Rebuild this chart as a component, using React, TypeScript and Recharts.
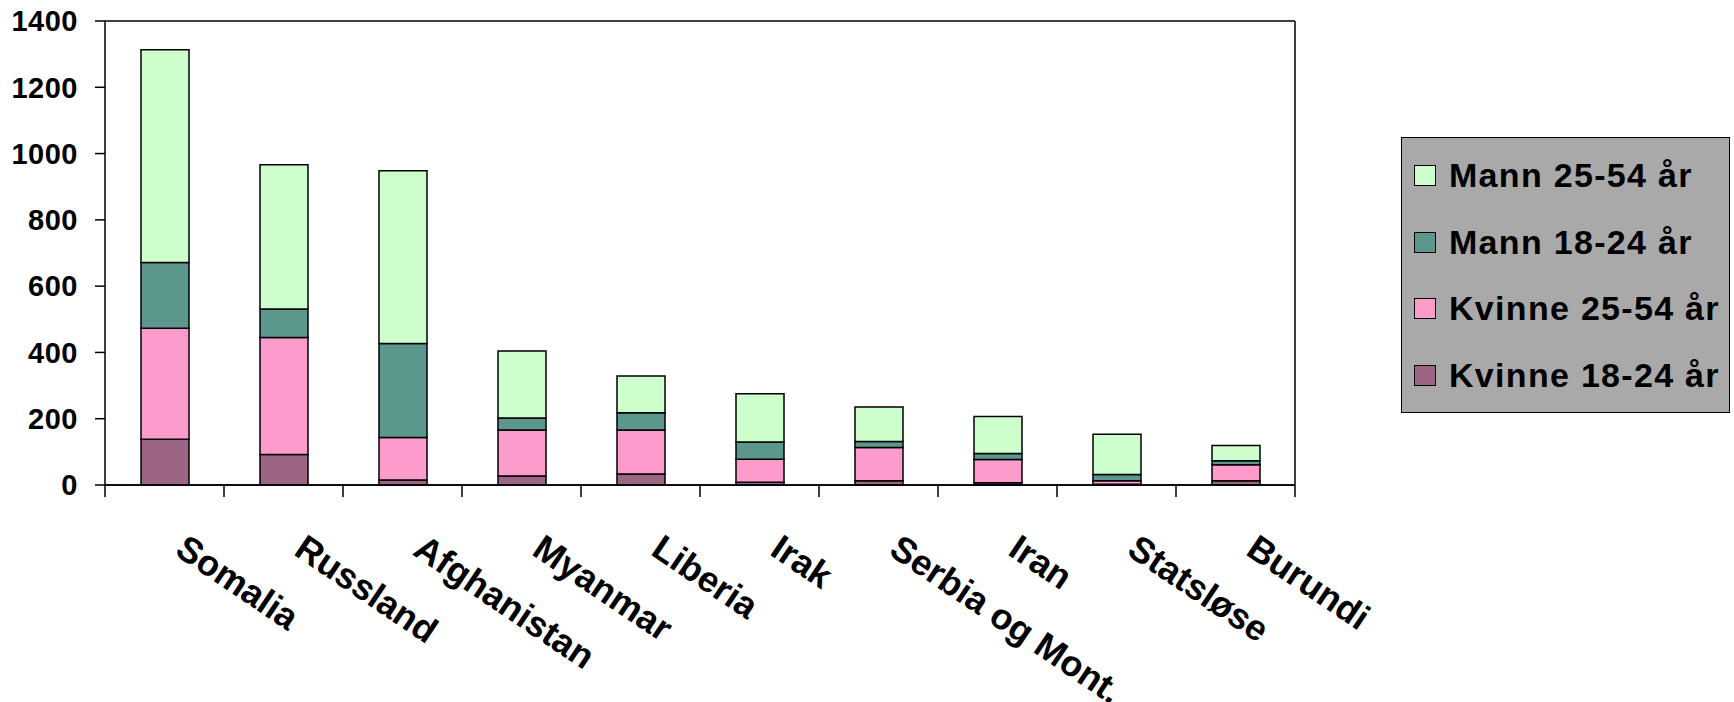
import { BarChart, Bar, XAxis, YAxis, CartesianGrid } from 'recharts';

const categories = ['Somalia', 'Russland', 'Afghanistan', 'Myanmar', 'Liberia', 'Irak', 'Serbia og Mont.', 'Iran', 'Statsløse', 'Burundi'];
const kvinne1824 = [138, 92, 15, 27, 33, 8, 13, 7, 2, 13];
const kvinne2554 = [335, 353, 128, 139, 133, 70, 100, 70, 11, 48];
const mann1824 = [198, 86, 284, 36, 52, 52, 18, 18, 19, 12];
const mann2554 = [642, 435, 521, 202, 111, 145, 104, 112, 121, 46];
const yTicks = [0, 200, 400, 600, 800, 1000, 1200, 1400];

const seriesNames = ['Kvinne 18-24 år', 'Kvinne 25-54 år', 'Mann 18-24 år', 'Mann 25-54 år'];
const seriesColors = ['#9b6583', '#fd9bcc', '#5b978d', '#ccffcc'];

const data = categories.map((name, i) => ({
  name,
  k1824: kvinne1824[i],
  k2554: kvinne2554[i],
  m1824: mann1824[i],
  m2554: mann2554[i],
}));
const keys = ['k1824', 'k2554', 'm1824', 'm2554'];

const W = 1734;
const H = 702;
const PLOT_LEFT = 105;
const PLOT_RIGHT = 1295;
const PLOT_TOP = 21;
const PLOT_BOTTOM = 485;
const Y_AXIS_W = 90;
const R_AXIS_W = 2;
const BAND = (PLOT_RIGHT - PLOT_LEFT) / categories.length;
const FONT = '"Liberation Sans", Arial, sans-serif';

function XTick(props: any) {
  const { x, y, payload, index } = props;
  const lx = x + 9;
  const ly = y + 69;
  return (
    <g>
      <line x1={x - BAND / 2} y1={y} x2={x - BAND / 2} y2={y + 12} stroke="#000" strokeWidth={1.5} />
      {index === categories.length - 1 && (
        <line x1={x + BAND / 2} y1={y} x2={x + BAND / 2} y2={y + 12} stroke="#000" strokeWidth={1.5} />
      )}
      <text
        x={lx}
        y={ly}
        transform={`rotate(34, ${lx}, ${ly})`}
        textAnchor="start"
        fontFamily={FONT}
        fontWeight="bold"
        fontSize={36}
        fill="#000"
      >
        {payload.value}
      </text>
    </g>
  );
}

function ChartLegend() {
  const order = [3, 2, 1, 0];
  return (
    <div
      style={{
        position: 'absolute',
        left: 1401,
        top: 137,
        width: 329,
        height: 276,
        background: '#a9a9a9',
        border: '1.5px solid #000',
        boxSizing: 'border-box',
        paddingTop: 4,
        fontFamily: FONT,
      }}
    >
      {order.map((i) => (
        <div key={i} style={{ display: 'flex', alignItems: 'center', height: 66.7, paddingLeft: 12 }}>
          <div
            style={{
              width: 22,
              height: 21,
              background: seriesColors[i],
              border: '1.5px solid #000',
              boxSizing: 'border-box',
              marginRight: 13,
            }}
          />
          <span style={{ fontSize: 34, fontWeight: 'bold', letterSpacing: 1.3, color: '#000', whiteSpace: 'nowrap' }}>
            {seriesNames[i]}
          </span>
        </div>
      ))}
    </div>
  );
}

export default function App() {
  return (
    <div style={{ position: 'absolute', left: 0, top: 0, width: W, height: H, background: '#fff', overflow: 'hidden' }}>
      <BarChart
        width={W}
        height={H}
        data={data}
        margin={{ top: PLOT_TOP, right: W - PLOT_RIGHT - R_AXIS_W, left: PLOT_LEFT - Y_AXIS_W, bottom: 0 }}
      >
        <CartesianGrid vertical={false} stroke="#000" strokeWidth={1.6} />
        <XAxis
          dataKey="name"
          height={H - PLOT_BOTTOM}
          axisLine={{ stroke: '#000', strokeWidth: 1.5 }}
          tickLine={false}
          tickSize={0}
          tickMargin={0}
          interval={0}
          tick={<XTick />}
        />
        <YAxis
          yAxisId="left"
          width={Y_AXIS_W}
          domain={[0, 1400]}
          ticks={yTicks}
          interval={0}
          axisLine={{ stroke: '#000', strokeWidth: 1.5 }}
          tickLine={{ stroke: '#000', strokeWidth: 1.5 }}
          tickSize={10}
          tickMargin={17}
          tick={{ fill: '#000', fontSize: 29, fontWeight: 'bold', fontFamily: FONT, letterSpacing: 0.5 }}
        />
        <YAxis
          yAxisId="right"
          orientation="right"
          width={R_AXIS_W}
          domain={[0, 1400]}
          ticks={yTicks}
          tick={false}
          tickLine={false}
          axisLine={{ stroke: '#000', strokeWidth: 1.5 }}
        />
        {keys.map((k, i) => (
          <Bar
            key={k}
            yAxisId="left"
            dataKey={k}
            name={seriesNames[i]}
            stackId="a"
            fill={seriesColors[i]}
            stroke="#000"
            strokeWidth={1.5}
            barSize={48}
            isAnimationActive={false}
          />
        ))}
      </BarChart>
      <ChartLegend />
    </div>
  );
}
